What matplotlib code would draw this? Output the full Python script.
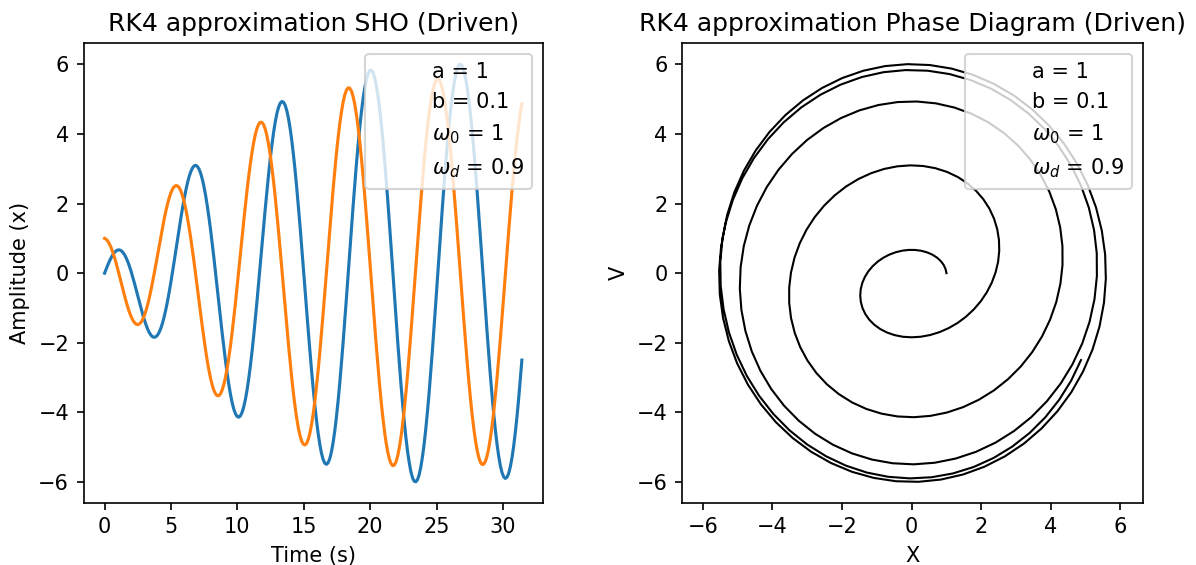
import matplotlib
matplotlib.use("Agg")
import matplotlib.pyplot as plt

# time samples (s)
t = [0.000, 0.125, 0.249, 0.374, 0.499, 0.623, 0.748, 0.873, 0.997, 1.122,
     1.247, 1.371, 1.496, 1.621, 1.745, 1.870, 1.995, 2.119, 2.244, 2.369,
     2.493, 2.618, 2.743, 2.867, 2.992, 3.117, 3.241, 3.366, 3.491, 3.615,
     3.740, 3.865, 3.989, 4.114, 4.239, 4.363, 4.488, 4.613, 4.737, 4.862,
     4.987, 5.111, 5.236, 5.361, 5.485, 5.610, 5.735, 5.859, 5.984, 6.109,
     6.233, 6.358, 6.483, 6.607, 6.732, 6.857, 6.981, 7.106, 7.231, 7.355,
     7.480, 7.605, 7.729, 7.854, 7.979, 8.103, 8.228, 8.353, 8.477, 8.602,
     8.727, 8.851, 8.976, 9.101, 9.225, 9.350, 9.475, 9.599, 9.724, 9.849,
     9.973, 10.098, 10.223, 10.347, 10.472, 10.597, 10.721, 10.846, 10.971, 11.095,
     11.220, 11.345, 11.469, 11.594, 11.719, 11.843, 11.968, 12.093, 12.217, 12.342,
     12.467, 12.591, 12.716, 12.841, 12.965, 13.090, 13.215, 13.339, 13.464, 13.589,
     13.713, 13.838, 13.963, 14.087, 14.212, 14.337, 14.461, 14.586, 14.711, 14.835,
     14.960, 15.085, 15.209, 15.334, 15.459, 15.583, 15.708, 15.833, 15.957, 16.082,
     16.207, 16.331, 16.456, 16.581, 16.705, 16.830, 16.955, 17.079, 17.204, 17.329,
     17.453, 17.578, 17.703, 17.827, 17.952, 18.077, 18.201, 18.326, 18.451, 18.575,
     18.700, 18.825, 18.949, 19.074, 19.199, 19.323, 19.448, 19.573, 19.697, 19.822,
     19.947, 20.071, 20.196, 20.321, 20.445, 20.570, 20.695, 20.819, 20.944, 21.069,
     21.193, 21.318, 21.443, 21.567, 21.692, 21.817, 21.941, 22.066, 22.191, 22.315,
     22.440, 22.565, 22.689, 22.814, 22.939, 23.063, 23.188, 23.313, 23.437, 23.562,
     23.687, 23.811, 23.936, 24.061, 24.185, 24.310, 24.435, 24.559, 24.684, 24.809,
     24.933, 25.058, 25.183, 25.307, 25.432, 25.557, 25.681, 25.806, 25.931, 26.055,
     26.180, 26.305, 26.429, 26.554, 26.679, 26.803, 26.928, 27.053, 27.177, 27.302,
     27.427, 27.551, 27.676, 27.801, 27.925, 28.050, 28.175, 28.299, 28.424, 28.549,
     28.673, 28.798, 28.923, 29.047, 29.172, 29.297, 29.421, 29.546, 29.671, 29.795,
     29.920, 30.045, 30.169, 30.294, 30.419, 30.543, 30.668, 30.793, 30.917, 31.042,
     31.167, 31.291, 31.416]

# position x (blue curve)
x = [0.000, 0.123, 0.242, 0.351, 0.448, 0.531, 0.596, 0.642, 0.666, 0.668,
     0.646, 0.601, 0.533, 0.442, 0.331, 0.199, 0.052, -0.110, -0.283, -0.463,
     -0.646, -0.830, -1.009, -1.180, -1.339, -1.482, -1.606, -1.706, -1.781, -1.828,
     -1.843, -1.827, -1.778, -1.695, -1.579, -1.431, -1.251, -1.042, -0.807, -0.548,
     -0.270, 0.025, 0.331, 0.643, 0.956, 1.266, 1.568, 1.855, 2.123, 2.367,
     2.582, 2.764, 2.910, 3.016, 3.079, 3.097, 3.069, 2.994, 2.872, 2.704,
     2.491, 2.235, 1.940, 1.609, 1.247, 0.858, 0.447, 0.021, -0.415, -0.855,
     -1.291, -1.717, -2.126, -2.513, -2.871, -3.194, -3.476, -3.714, -3.902, -4.037,
     -4.117, -4.139, -4.101, -4.005, -3.849, -3.636, -3.368, -3.048, -2.680, -2.268,
     -1.818, -1.336, -0.829, -0.303, 0.235, 0.775, 1.312, 1.837, 2.342, 2.821,
     3.265, 3.668, 4.025, 4.328, 4.575, 4.759, 4.879, 4.932, 4.916, 4.831,
     4.678, 4.458, 4.174, 3.829, 3.427, 2.974, 2.476, 1.939, 1.370, 0.778,
     0.170, -0.445, -1.058, -1.661, -2.246, -2.804, -3.328, -3.808, -4.240, -4.615,
     -4.930, -5.178, -5.356, -5.462, -5.493, -5.448, -5.328, -5.134, -4.869, -4.535,
     -4.137, -3.680, -3.170, -2.614, -2.020, -1.395, -0.748, -0.088, 0.576, 1.235,
     1.879, 2.501, 3.091, 3.641, 4.143, 4.591, 4.977, 5.298, 5.546, 5.720,
     5.817, 5.835, 5.774, 5.634, 5.416, 5.125, 4.763, 4.336, 3.849, 3.309,
     2.722, 2.097, 1.443, 0.768, 0.081, -0.608, -1.290, -1.956, -2.597, -3.203,
     -3.767, -4.281, -4.738, -5.132, -5.456, -5.708, -5.883, -5.979, -5.995, -5.930,
     -5.785, -5.562, -5.265, -4.897, -4.462, -3.968, -3.421, -2.827, -2.196, -1.534,
     -0.853, -0.160, 0.535, 1.223, 1.894, 2.540, 3.152, 3.721, 4.241, 4.703,
     5.103, 5.434, 5.693, 5.876, 5.980, 6.005, 5.950, 5.816, 5.605, 5.319,
     4.963, 4.542, 4.061, 3.526, 2.946, 2.327, 1.679, 1.009, 0.327, -0.359,
     -1.038, -1.703, -2.345, -2.954, -3.523, -4.045, -4.512, -4.919, -5.260, -5.532,
     -5.730, -5.852, -5.897, -5.864, -5.755, -5.570, -5.312, -4.985, -4.594, -4.143,
     -3.638, -3.088, -2.498]

# velocity v (orange curve)
v = [1.000, 0.972, 0.916, 0.833, 0.726, 0.596, 0.447, 0.282, 0.105, -0.080,
     -0.269, -0.458, -0.641, -0.816, -0.977, -1.122, -1.245, -1.346, -1.419, -1.464,
     -1.478, -1.460, -1.411, -1.329, -1.217, -1.074, -0.903, -0.707, -0.489, -0.252,
     0.000, 0.262, 0.529, 0.798, 1.063, 1.319, 1.561, 1.785, 1.986, 2.160,
     2.303, 2.412, 2.484, 2.516, 2.508, 2.458, 2.366, 2.233, 2.060, 1.849,
     1.601, 1.322, 1.013, 0.680, 0.328, -0.038, -0.414, -0.792, -1.166, -1.532,
     -1.883, -2.212, -2.515, -2.787, -3.022, -3.216, -3.366, -3.467, -3.519, -3.519,
     -3.466, -3.360, -3.202, -2.993, -2.737, -2.435, -2.092, -1.713, -1.302, -0.865,
     -0.409, 0.061, 0.537, 1.012, 1.480, 1.933, 2.364, 2.767, 3.136, 3.464,
     3.746, 3.977, 4.155, 4.274, 4.334, 4.332, 4.268, 4.142, 3.955, 3.709,
     3.408, 3.055, 2.654, 2.212, 1.733, 1.225, 0.695, 0.149, -0.403, -0.955,
     -1.499, -2.027, -2.530, -3.002, -3.435, -3.824, -4.162, -4.444, -4.666, -4.824,
     -4.915, -4.938, -4.892, -4.777, -4.595, -4.347, -4.036, -3.667, -3.244, -2.774,
     -2.262, -1.716, -1.142, -0.549, 0.054, 0.660, 1.261, 1.847, 2.410, 2.942,
     3.437, 3.886, 4.283, 4.623, 4.901, 5.112, 5.253, 5.322, 5.318, 5.241,
     5.091, 4.871, 4.583, 4.230, 3.819, 3.353, 2.840, 2.287, 1.700, 1.089,
     0.461, -0.175, -0.810, -1.436, -2.043, -2.624, -3.171, -3.675, -4.130, -4.530,
     -4.869, -5.141, -5.344, -5.475, -5.532, -5.513, -5.419, -5.252, -5.013, -4.705,
     -4.333, -3.903, -3.418, -2.888, -2.317, -1.715, -1.089, -0.449, 0.198, 0.843,
     1.477, 2.090, 2.676, 3.226, 3.732, 4.188, 4.587, 4.924, 5.196, 5.397,
     5.525, 5.579, 5.559, 5.463, 5.295, 5.055, 4.748, 4.377, 3.948, 3.466,
     2.939, 2.372, 1.775, 1.155, 0.519, -0.122, -0.761, -1.389, -1.997, -2.578,
     -3.124, -3.627, -4.082, -4.481, -4.820, -5.094, -5.300, -5.435, -5.498, -5.488,
     -5.404, -5.250, -5.026, -4.736, -4.384, -3.975, -3.514, -3.008, -2.463, -1.887,
     -1.287, -0.672, -0.049, 0.572, 1.185, 1.780, 2.350, 2.888, 3.386, 3.839,
     4.239, 4.583, 4.865]

param_labels = ["a = 1", "b = 0.1", r"$\omega_0$ = 1", r"$\omega_d$ = 0.9"]

DPI = 150
fig = plt.figure(figsize=(1196 / DPI, 565 / DPI), dpi=DPI)

ax1 = fig.add_axes([0.0700, 0.1103, 0.3838, 0.8131])
ax1.plot(t, x)
ax1.plot(t, v)
for lab in param_labels:
    ax1.plot([], [], " ", label=lab)
ax1.set_title("RK4 approximation SHO (Driven)")
ax1.set_xlabel("Time (s)")
ax1.set_ylabel("Amplitude (x)")
ax1.legend(loc="upper right")

ax2 = fig.add_axes([0.5705, 0.1103, 0.3849, 0.8131])
ax2.plot(v, x, color="black", linewidth=1.0)
for lab in param_labels:
    ax2.plot([], [], " ", label=lab)
ax2.set_aspect("equal", adjustable="datalim")
ax2.set_title("RK4 approximation Phase Diagram (Driven)")
ax2.set_xlabel("X")
ax2.set_ylabel("V")
ax2.legend(loc="upper right")

fig.savefig("out.png", dpi=DPI)
